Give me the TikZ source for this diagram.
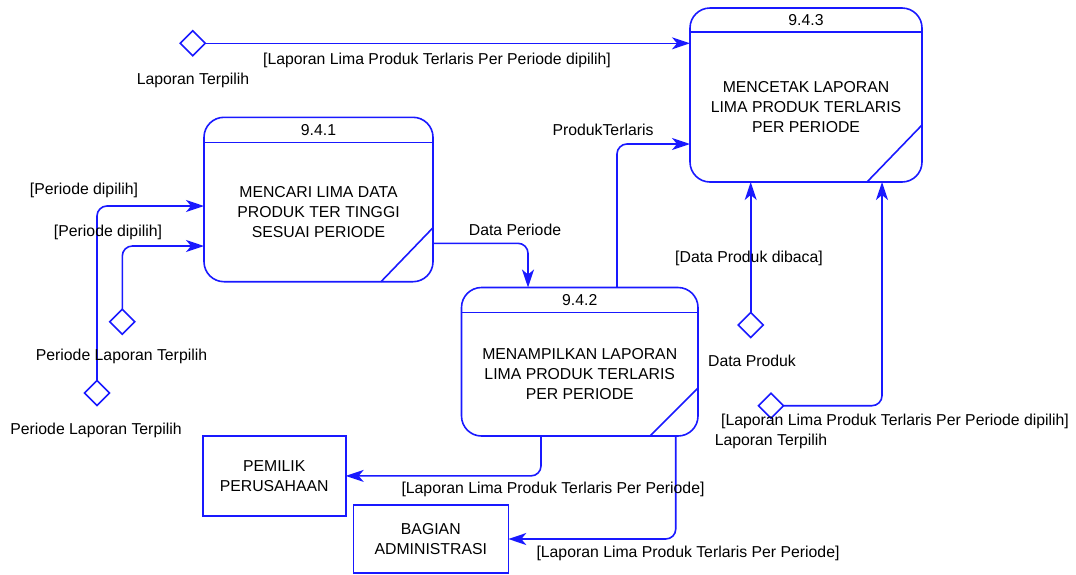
\documentclass[tikz,border=0pt]{standalone}
\usepackage{fontspec}
\setmainfont{Liberation Sans}
\usetikzlibrary{arrows.meta,shapes.geometric,calc}
\definecolor{dfdblue}{RGB}{25,25,255}
\begin{document}
\begin{tikzpicture}[x=1pt,y=-1pt,
  font=\fontsize{15.8}{20}\selectfont,
  every node/.style={inner sep=0pt, outer sep=0pt},
  proc/.style={draw=dfdblue, line width=1.6pt, rounded corners=20pt, rectangle},
  ent/.style={draw=dfdblue, line width=1.6pt, rectangle, align=center},
  store/.style={draw=dfdblue, line width=1.6pt, diamond, aspect=1, minimum width=25pt, minimum height=25pt},
  flow/.style={draw=dfdblue, line width=1.6pt, rounded corners=10pt, -{Stealth[length=18pt,width=12pt,inset=5pt]}},
  bline/.style={draw=dfdblue, line width=1.6pt},
  lbl/.style={text=black, align=center},
  ptext/.style={text=black, align=center},
]
\useasboundingbox (0,0) rectangle (1076,574);

% ---------- processes ----------
\node[proc, minimum width=232pt, minimum height=174pt] (p3) at (806,95) {};
\draw[bline] ([yshift=-24pt]p3.north west) -- ([yshift=-24pt]p3.north east);
\node[ptext] (p3n) at ([yshift=-12.5pt]p3.north) {9.4.3};
\node[ptext] (p3t) at ($(p3.south)!0.5!([yshift=-24pt]p3.north)$) {MENCETAK LAPORAN\\LIMA PRODUK TERLARIS\\PER PERIODE};
\draw[bline] ([xshift=-55pt]p3.south east) -- ([yshift=57pt]p3.south east);

\node[proc, minimum width=229pt, minimum height=164.4pt] (p1) at (318.5,199.5) {};
\draw[bline] ([yshift=-25pt]p1.north west) -- ([yshift=-25pt]p1.north east);
\node[ptext] (p1n) at ([yshift=-12.5pt]p1.north) {9.4.1};
\node[ptext] (p1t) at ($(p1.south)!0.5!([yshift=-25pt]p1.north)$) {MENCARI LIMA DATA\\PRODUK TER TINGGI\\SESUAI PERIODE};
\draw[bline] ([xshift=-52pt]p1.south east) -- ([yshift=54pt]p1.south east);

\node[proc, minimum width=236.5pt, minimum height=148.5pt] (p2) at (579.75,361.75) {};
\draw[bline] ([yshift=-25pt]p2.north west) -- ([yshift=-25pt]p2.north east);
\node[ptext] (p2n) at ([yshift=-13pt]p2.north) {9.4.2};
\node[ptext] (p2t) at ($(p2.south)!0.5!([yshift=-25pt]p2.north)$) {MENAMPILKAN LAPORAN\\LIMA PRODUK TERLARIS\\PER PERIODE};
\draw[bline] ([xshift=-48pt]p2.south east) -- ([yshift=48pt]p2.south east);

% ---------- external entities ----------
\node[ent, minimum width=143pt, minimum height=80.3pt] (pem) at (274.2,475.9) {PEMILIK\\PERUSAHAAN};
\node[ent, minimum width=155pt, minimum height=68pt] (bag) at (430.8,539) {BAGIAN\\ADMINISTRASI};

% ---------- stores ----------
\node[store] (d1) at (192.7,43.3) {};
\node[store] (d2) at (97,393) {};
\node[store] (d3) at (122.3,321.7) {};
\node[store] (d4) at (750.7,325) {};
\node[store] (d5) at (771,405.7) {};

% ---------- flows ----------
\draw[flow] (d1.east) -- (d1.east -| p3.west);
\draw[flow] (d2.north) |- ([yshift=-6.5pt]p1.west);
\draw[flow] (d3.north) |- ([yshift=-46.5pt]p1.west);
\draw[flow] ([yshift=-43.8pt]p1.east) -| ([xshift=-51.75pt]p2.north);
\draw[flow] ([xshift=37.25pt]p2.north) |- ([yshift=-49pt]p3.west);
\draw[flow] (d4.north) -- (d4.north |- p3.south);
\draw[flow] (d5.east) -| ([xshift=76pt]p3.south);
\draw[flow] ([xshift=-38.75pt]p2.south) |- (pem.east);
\draw[flow] ([xshift=96pt]p2.south) |- (bag.east);

% ---------- labels ----------
\node[lbl] (l1) at (437,60) {[Laporan Lima Produk Terlaris Per Periode dipilih]};
\node[lbl] (l2) at (193,80.5) {Laporan Terpilih};
\node[lbl] (l3) at (84,190.5) {[Periode dipilih]};
\node[lbl] (l4) at (108,232.5) {[Periode dipilih]};
\node[lbl] (l5) at (121.5,356) {Periode Laporan Terpilih};
\node[lbl] (l6) at (96,430) {Periode Laporan Terpilih};
\node[lbl] (l7) at (515,230) {Data Periode};
\node[lbl] (l8) at (603,129.5) {ProdukTerlaris};
\node[lbl] (l9) at (749,258.5) {[Data Produk dibaca]};
\node[lbl] (l10) at (752,361) {Data Produk};
\node[lbl] (l11) at (895,421.5) {[Laporan Lima Produk Terlaris Per Periode dipilih]};
\node[lbl] (l12) at (771,441) {Laporan Terpilih};
\node[lbl] (l13) at (553,489.5) {[Laporan Lima Produk Terlaris Per Periode]};
\node[lbl] (l14) at (688,553) {[Laporan Lima Produk Terlaris Per Periode]};
\end{tikzpicture}
\end{document}
